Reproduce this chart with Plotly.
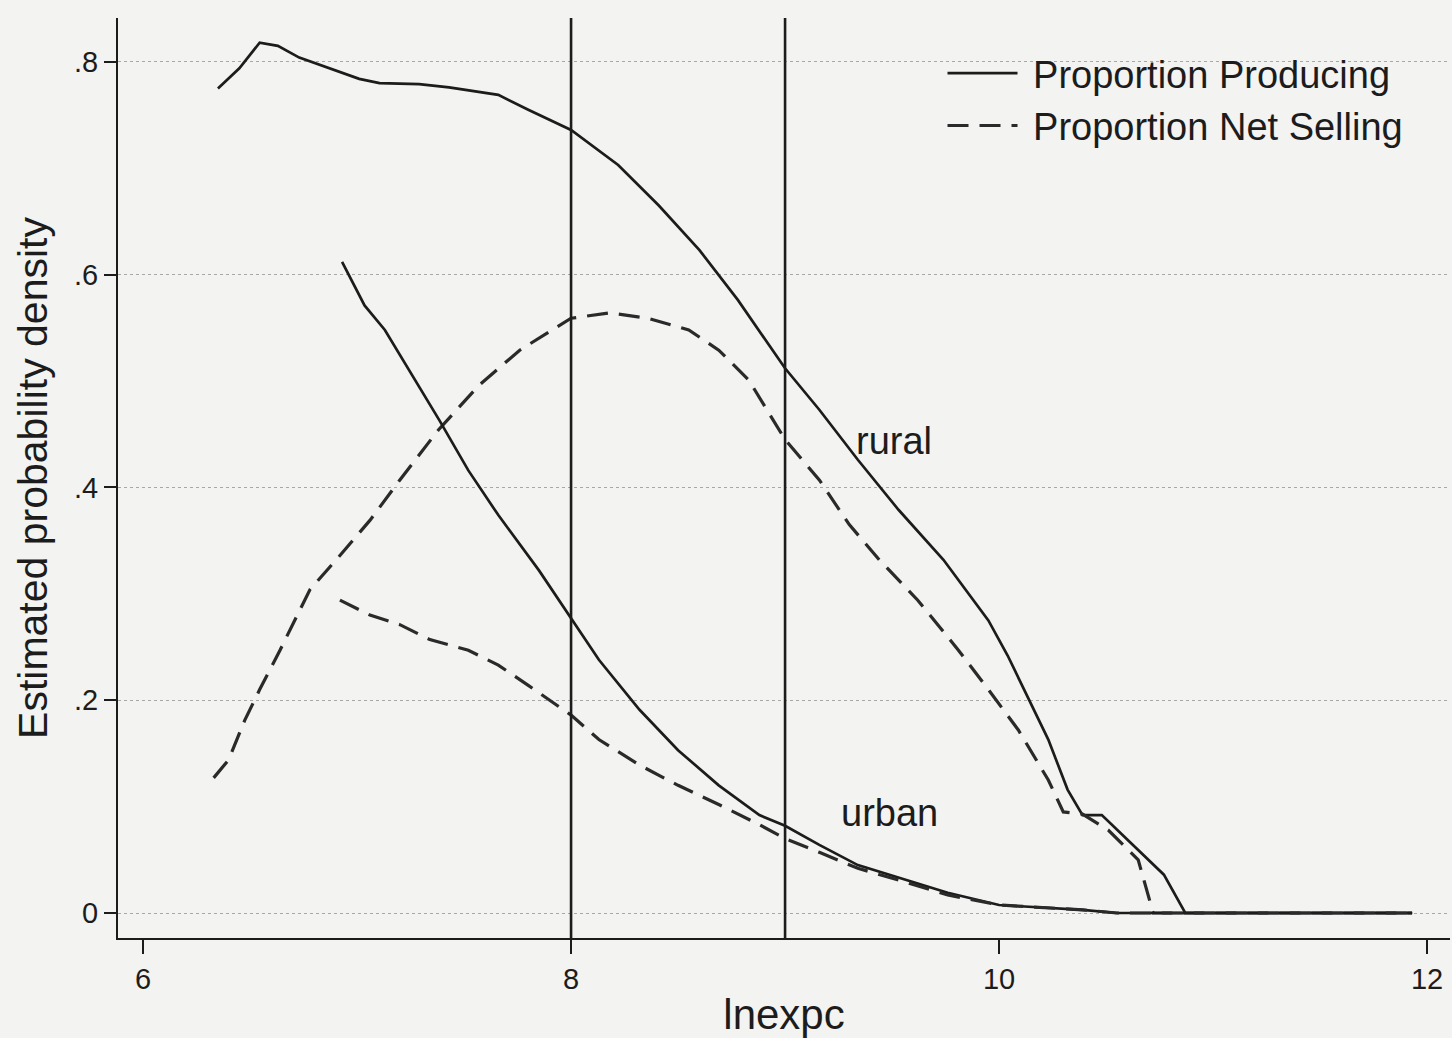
import plotly.graph_objects as go

# ---- data ----
rural_prod_x = [6.35, 6.45, 6.545, 6.63, 6.73, 6.87, 7.01, 7.105, 7.29, 7.43, 7.66, 7.80, 8.0, 8.22, 8.41, 8.60,
                8.78, 9.0, 9.16, 9.34, 9.53, 9.74, 9.86, 9.95, 10.04, 10.14, 10.23, 10.32, 10.39, 10.48, 10.77,
                10.87, 11.93]
rural_prod_y = [0.775, 0.794, 0.818, 0.815, 0.804, 0.794, 0.784, 0.780, 0.779, 0.776, 0.769, 0.755, 0.736, 0.703,
                0.665, 0.623, 0.576, 0.512, 0.473, 0.426, 0.379, 0.332, 0.299, 0.275, 0.242, 0.200, 0.163, 0.116,
                0.092, 0.092, 0.036, 0.0, 0.0]

rural_sell_x = [6.33, 6.40, 6.475, 6.545, 6.64, 6.78, 6.92, 7.06, 7.20, 7.38, 7.57, 7.76, 8.0, 8.18, 8.36, 8.55,
                8.69, 8.83, 9.0, 9.16, 9.30, 9.44, 9.62, 9.81, 9.95, 10.09, 10.23, 10.30, 10.39, 10.51, 10.65,
                10.72, 11.93]
rural_sell_y = [0.127, 0.144, 0.181, 0.210, 0.247, 0.304, 0.336, 0.369, 0.407, 0.454, 0.496, 0.529, 0.559, 0.564,
                0.559, 0.548, 0.529, 0.501, 0.445, 0.407, 0.365, 0.332, 0.294, 0.247, 0.210, 0.172, 0.125, 0.095,
                0.093, 0.078, 0.050, 0.0, 0.0]

urban_prod_x = [6.93, 7.035, 7.13, 7.245, 7.385, 7.52, 7.66, 7.85, 8.0, 8.13, 8.32, 8.50, 8.69, 8.88, 9.0, 9.16,
                9.34, 9.53, 9.76, 10.0, 10.23, 10.39, 10.55, 11.93]
urban_prod_y = [0.612, 0.571, 0.548, 0.510, 0.463, 0.416, 0.374, 0.322, 0.277, 0.238, 0.191, 0.153, 0.120, 0.092,
                0.082, 0.064, 0.045, 0.033, 0.019, 0.0075, 0.0047, 0.003, 0.0, 0.0]

urban_sell_x = [6.92, 7.06, 7.20, 7.34, 7.52, 7.66, 7.80, 8.0, 8.13, 8.32, 8.50, 8.69, 8.88, 9.0, 9.16, 9.34, 9.53,
                9.76, 10.0, 10.23, 10.39, 10.55, 11.93]
urban_sell_y = [0.294, 0.280, 0.271, 0.257, 0.247, 0.233, 0.214, 0.186, 0.163, 0.139, 0.120, 0.102, 0.083, 0.070,
                0.057, 0.042, 0.031, 0.017, 0.0075, 0.0045, 0.003, 0.0, 0.0]

vlines_x = [8, 9]
x_ticks = [6, 8, 10, 12]
y_ticks = [0, 0.2, 0.4, 0.6, 0.8]
y_tick_labels = ["0", ".2", ".4", ".6", ".8"]
labels = ["rural", "urban"]
label_x = [9.51, 9.49]
label_y = [0.444, 0.094]

INK = "#1c1c1c"
DASH_INK = "#2a2a2a"
FONT = "Liberation Sans, Arial, sans-serif"
DASH = "21px,11px"
LW = 2.7
DW = 3.2
PAD = "&nbsp;"

fig = go.Figure()
fig.add_trace(go.Scatter(x=rural_prod_x, y=rural_prod_y, mode="lines", name=PAD + "Proportion Producing",
                         line=dict(color=INK, width=LW), legendrank=1))
fig.add_trace(go.Scatter(x=rural_sell_x, y=rural_sell_y, mode="lines", name=PAD + "Proportion Net Selling",
                         line=dict(color=DASH_INK, width=DW, dash=DASH), legendrank=2))
fig.add_trace(go.Scatter(x=urban_prod_x, y=urban_prod_y, mode="lines", showlegend=False,
                         line=dict(color=INK, width=LW)))
fig.add_trace(go.Scatter(x=urban_sell_x, y=urban_sell_y, mode="lines", showlegend=False,
                         line=dict(color=DASH_INK, width=DW, dash=DASH)))

for vx in vlines_x:
    fig.add_vline(x=vx, line=dict(color=INK, width=2.6))

for t, lx, ly in zip(labels, label_x, label_y):
    fig.add_annotation(x=lx, y=ly, text=t, showarrow=False, xanchor="center", yanchor="middle",
                       font=dict(size=38, color=INK, family=FONT))

fig.update_layout(
    width=1452, height=1038,
    margin=dict(l=118, r=2, t=18, b=100),
    paper_bgcolor="#f3f3f1", plot_bgcolor="#f3f3f1",
    font=dict(family=FONT, color=INK, size=29),
    showlegend=True,
    legend=dict(x=0.619, y=0.974, xanchor="left", yanchor="top", bgcolor="rgba(0,0,0,0)",
                font=dict(size=38, color=INK, family=FONT), itemwidth=70, tracegroupgap=0),
)
fig.update_xaxes(range=[5.883, 12.107], tickvals=x_ticks, ticks="outside", ticklen=14, tickwidth=2,
                 tickcolor=INK, showline=True, linecolor=INK, linewidth=2, showgrid=False, zeroline=False,
                 tickfont=dict(size=29), title=dict(text="lnexpc", font=dict(size=42), standoff=8))
fig.update_yaxes(range=[-0.0235, 0.8412], tickvals=y_ticks, ticktext=y_tick_labels, ticks="outside", ticklen=12,
                 tickwidth=2, tickcolor=INK, showline=True, linecolor=INK, linewidth=2, showgrid=True,
                 gridcolor="#a8a8a8", gridwidth=1.2, griddash="dot", zeroline=False,
                 tickfont=dict(size=29),
                 title=dict(text="Estimated probability density", font=dict(size=41), standoff=14))

fig.write_html("out.html")
